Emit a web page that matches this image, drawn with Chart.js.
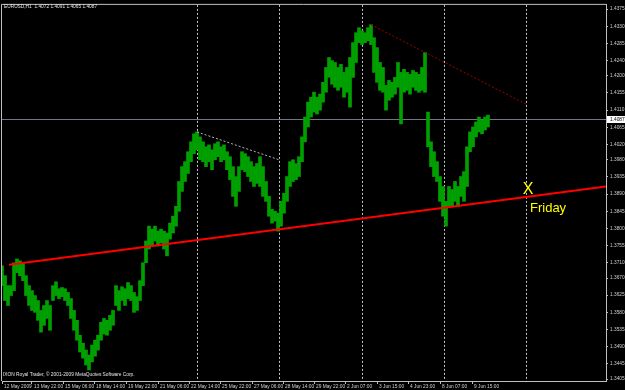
<!DOCTYPE html>
<html>
<head>
<meta charset="utf-8">
<script src="https://cdn.jsdelivr.net/npm/chart.js@4.4.0/dist/chart.umd.min.js"></script>
<style>
  body { margin: 0; background: #000; }
  #wrap { width: 625px; height: 390px; }
</style>
</head>
<body>
<div id="wrap"><canvas id="priceChart" width="625" height="390"></canvas></div>
<script>
// EURUSD H1, one sample every 3 slots (high / low of that stretch)
const highs = [
  1.3702, 1.3676, 1.3650, 1.3650, 1.3710, 1.3720, 1.3715, 1.3710, 1.3676, 1.3650,
  1.3637, 1.3624, 1.3611, 1.3585, 1.3598, 1.3611, 1.3598, 1.3650, 1.3660, 1.3642,
  1.3645, 1.3642, 1.3632, 1.3616, 1.3585, 1.3559, 1.3520, 1.3499, 1.3481, 1.3468,
  1.3494, 1.3507, 1.3520, 1.3554, 1.3564, 1.3559, 1.3572, 1.3585, 1.3650, 1.3637,
  1.3647, 1.3642, 1.3658, 1.3650, 1.3632, 1.3621, 1.3663, 1.3710, 1.3767, 1.3806,
  1.3798, 1.3806, 1.3793, 1.3798, 1.3793, 1.3788, 1.3814, 1.3832, 1.3858, 1.3923,
  1.3962, 1.3975, 1.4001, 1.4027, 1.4048, 1.4053, 1.4040, 1.4027, 1.4014, 1.4019,
  1.4006, 1.4022, 1.4027, 1.4014, 1.4019, 1.4001, 1.3988, 1.3962, 1.3936, 1.3962,
  1.4001, 1.3996, 1.3988, 1.3975, 1.3962, 1.3970, 1.3988, 1.3962, 1.3923, 1.3884,
  1.3850, 1.3845, 1.3840, 1.3871, 1.3892, 1.3936, 1.3975, 1.3980, 1.3970, 1.3988,
  1.4040, 1.4092, 1.4131, 1.4144, 1.4157, 1.4144, 1.4152, 1.4183, 1.4222, 1.4248,
  1.4240, 1.4235, 1.4222, 1.4230, 1.4209, 1.4222, 1.4248, 1.4287, 1.4313, 1.4326,
  1.4318, 1.4313, 1.4326, 1.4334, 1.4300, 1.4274, 1.4235, 1.4222, 1.4175, 1.4188,
  1.4183, 1.4196, 1.4235, 1.4209, 1.4217, 1.4209, 1.4204, 1.4214, 1.4209, 1.4204,
  1.4222, 1.4261, 1.4105, 1.4027, 1.4001, 1.3975, 1.3936, 1.3910, 1.3871, 1.3910,
  1.3902, 1.3923, 1.3910, 1.3936, 1.3949, 1.4014, 1.4053, 1.4066, 1.4079, 1.4092,
  1.4084, 1.4092, 1.4097
];
const lows = [
  1.3650, 1.3611, 1.3598, 1.3624, 1.3637, 1.3684, 1.3676, 1.3663, 1.3624, 1.3598,
  1.3585, 1.3580, 1.3559, 1.3528, 1.3546, 1.3564, 1.3533, 1.3611, 1.3624, 1.3616,
  1.3621, 1.3611, 1.3598, 1.3564, 1.3533, 1.3507, 1.3476, 1.3460, 1.3442, 1.3429,
  1.3450, 1.3465, 1.3481, 1.3507, 1.3523, 1.3520, 1.3533, 1.3546, 1.3598, 1.3585,
  1.3611, 1.3598, 1.3616, 1.3611, 1.3580, 1.3585, 1.3611, 1.3650, 1.3710, 1.3746,
  1.3754, 1.3767, 1.3754, 1.3762, 1.3746, 1.3728, 1.3772, 1.3788, 1.3806, 1.3845,
  1.3897, 1.3923, 1.3944, 1.3975, 1.3996, 1.4006, 1.3980, 1.3975, 1.3962, 1.3975,
  1.3954, 1.3980, 1.3988, 1.3975, 1.3980, 1.3954, 1.3928, 1.3884, 1.3858, 1.3897,
  1.3954, 1.3949, 1.3936, 1.3923, 1.3910, 1.3918, 1.3910, 1.3884, 1.3871, 1.3832,
  1.3814, 1.3819, 1.3793, 1.3806, 1.3840, 1.3871, 1.3910, 1.3923, 1.3928, 1.3936,
  1.3975, 1.4027, 1.4066, 1.4092, 1.4105, 1.4100, 1.4110, 1.4131, 1.4157, 1.4196,
  1.4178, 1.4170, 1.4162, 1.4170, 1.4144, 1.4157, 1.4118, 1.4196, 1.4235, 1.4287,
  1.4282, 1.4287, 1.4292, 1.4282, 1.4209, 1.4183, 1.4162, 1.4157, 1.4110, 1.4136,
  1.4144, 1.4152, 1.4170, 1.4074, 1.4157, 1.4162, 1.4152, 1.4170, 1.4162, 1.4157,
  1.4162, 1.4157, 1.4014, 1.3962, 1.3936, 1.3923, 1.3871, 1.3832, 1.3806, 1.3858,
  1.3858, 1.3871, 1.3858, 1.3884, 1.3871, 1.3910, 1.4001, 1.4014, 1.4040, 1.4053,
  1.4048, 1.4058, 1.4066
];
const firstSlot = 2;
const slotStep = 3;

const timeLabels = ['12 May 2009', '13 May 22:00', '15 May 06:00', '18 May 14:00', '19 May 22:00',
  '21 May 06:00', '22 May 14:00', '25 May 22:00', '27 May 06:00', '28 May 14:00', '29 May 22:00',
  '2 Jun 07:00', '3 Jun 15:00', '4 Jun 23:00', '8 Jun 07:00', '9 Jun 15:00'];
const timeTickSlots = [2, 32, 63, 94, 126, 158, 189, 220, 252, 283, 314, 345, 377, 408, 440, 472];

const priceTicks = [1.4375, 1.4330, 1.4285, 1.4240, 1.4200, 1.4155, 1.4110, 1.4065, 1.4020,
  1.3980, 1.3935, 1.3890, 1.3845, 1.3800, 1.3755, 1.3710, 1.3670, 1.3625, 1.3580, 1.3535,
  1.3490, 1.3445, 1.3405];

const separatorSlots = [197, 279, 362, 444, 526];
const supportLine = [{ x: 9, y: 1.3705 }, { x: 606, y: 1.3910 }];
const pullbackLine = [{ x: 197, y: 1.4053 }, { x: 279, y: 1.3980 }];
const resistanceLine = [{ x: 371, y: 1.4334 }, { x: 526, y: 1.4126 }];
const lastClose = 1.4087;
const headerText = 'EURUSD,H1  1.4072 1.4091 1.4065 1.4087';
const footerText = 'IXON Royal Trader, \u00a9 2001-2009 MetaQuotes Software Corp.';
const markX = { x: 528, y: 1.3902 };
const markFriday = { x: 530, y: 1.3852 };

const smallFont = '4.8px "Liberation Sans", Arial, sans-serif';

const bars = highs.map((h, i) => ({ x: firstSlot + i * slotStep, y: [lows[i], h] }));

const mtOverlay = {
  id: 'mtOverlay',
  beforeDraw(chart) {
    const ctx = chart.ctx;
    ctx.save();
    ctx.fillStyle = '#000';
    ctx.fillRect(0, 0, chart.width, chart.height);
    ctx.restore();
  },
  beforeDatasetsDraw(chart) {
    const { ctx, chartArea: a, scales: { x, y } } = chart;
    ctx.save();
    ctx.lineWidth = 1;
    // bid line
    ctx.strokeStyle = '#6f7784';
    const py = Math.round(y.getPixelForValue(lastClose)) + 0.5;
    ctx.beginPath();
    ctx.moveTo(a.left, py);
    ctx.lineTo(a.right, py);
    ctx.stroke();
    // vertical dotted lines
    ctx.strokeStyle = '#c8c8c8';
    ctx.setLineDash([2, 2]);
    separatorSlots.forEach(s => {
      const px = Math.round(x.getPixelForValue(s)) + 0.5;
      ctx.beginPath();
      ctx.moveTo(px, a.top);
      ctx.lineTo(px, a.bottom);
      ctx.stroke();
    });
    ctx.restore();
  },
  afterDraw(chart) {
    const { ctx, chartArea: a, scales: { x, y } } = chart;
    ctx.save();
    // frame top / left
    ctx.strokeStyle = '#c0c0c0';
    ctx.lineWidth = 1;
    ctx.beginPath();
    ctx.moveTo(a.left - 0.5, a.bottom);
    ctx.lineTo(a.left - 0.5, a.top - 0.5);
    ctx.lineTo(a.right, a.top - 0.5);
    ctx.stroke();

    ctx.font = smallFont;
    ctx.fillStyle = '#e6e6e6';
    ctx.textBaseline = 'middle';
    ctx.textAlign = 'left';
    ctx.fillText(headerText, 4, 7);
    ctx.fillText(footerText, 3, 375);

    // last price box
    const py = y.getPixelForValue(lastClose);
    ctx.fillStyle = '#ffffff';
    ctx.fillRect(a.right + 1, Math.round(py) - 3, chart.width - a.right - 1, 7);
    ctx.fillStyle = '#000000';
    ctx.fillText(lastClose.toFixed(4), a.right + 4, py + 0.5);

    // notes
    ctx.fillStyle = '#ffff00';
    ctx.font = '16px "Liberation Sans", Arial, sans-serif';
    ctx.textAlign = 'center';
    ctx.fillText('X', x.getPixelForValue(markX.x), y.getPixelForValue(markX.y));
    ctx.font = '13px "Liberation Sans", Arial, sans-serif';
    ctx.textAlign = 'left';
    ctx.fillText('Friday', x.getPixelForValue(markFriday.x), y.getPixelForValue(markFriday.y));
    ctx.restore();
  }
};

new Chart(document.getElementById('priceChart'), {
  type: 'bar',
  data: {
    datasets: [
      {
        type: 'line', data: supportLine, borderColor: '#ff0000', borderWidth: 2,
        pointRadius: 0, fill: false, order: 0
      },
      {
        type: 'line', data: pullbackLine, borderColor: '#b4b4b4', borderWidth: 1,
        borderDash: [2, 2], pointRadius: 0, fill: false, order: 0
      },
      {
        type: 'line', data: resistanceLine, borderColor: '#a00000', borderWidth: 1,
        borderDash: [2, 2], pointRadius: 0, fill: false, order: 0
      },
      {
        data: bars, backgroundColor: '#00a000', borderWidth: 0,
        barPercentage: 1, categoryPercentage: 1, order: 1
      }
    ]
  },
  options: {
    responsive: false,
    animation: false,
    layout: { padding: { left: 2, top: 2, right: 0, bottom: 0 } },
    plugins: { legend: { display: false }, tooltip: { enabled: false } },
    scales: {
      x: {
        type: 'linear',
        offset: false,
        min: 2,
        max: 606,
        afterBuildTicks: scale => { scale.ticks = timeTickSlots.map(v => ({ value: v })); },
        afterFit: scale => { scale.height = 9; },
        ticks: {
          autoSkip: false, maxRotation: 0, align: 'start', labelOffset: 2, padding: 0,
          color: '#d0d0d0', font: { family: '"Liberation Sans", Arial, sans-serif', size: 4.8 },
          callback: (v, i) => timeLabels[i]
        },
        grid: { offset: false, drawOnChartArea: false, tickLength: 3, color: '#c0c0c0' },
        border: { color: '#c0c0c0' }
      },
      y: {
        position: 'right',
        min: 1.3400,
        max: 1.4386,
        afterBuildTicks: scale => { scale.ticks = priceTicks.map(v => ({ value: v })); },
        afterFit: scale => { scale.width = 19; },
        ticks: {
          autoSkip: false, padding: 2,
          color: '#d0d0d0', font: { family: '"Liberation Sans", Arial, sans-serif', size: 4.8 },
          callback: v => v.toFixed(4)
        },
        grid: { drawOnChartArea: false, tickLength: 2, color: '#c0c0c0' },
        border: { color: '#c0c0c0' }
      }
    }
  },
  plugins: [mtOverlay]
});
</script>
</body>
</html>
